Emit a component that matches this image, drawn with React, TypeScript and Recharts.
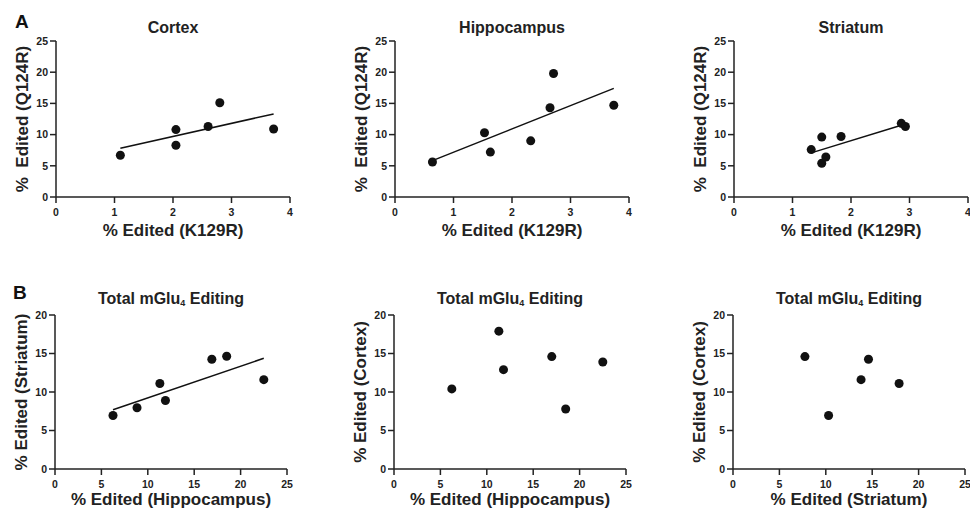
import { ScatterChart, Scatter, XAxis, YAxis, ZAxis, Label } from 'recharts'

// tick sets
const k129rTicks = [0, 1, 2, 3, 4]
const q124rTicks = [0, 5, 10, 15, 20, 25]
const totalXTicks = [0, 5, 10, 15, 20, 25]
const totalYTicks = [0, 5, 10, 15, 20]

// A: % edited K129R vs Q124R, per region
const cortexK129R = [1.1, 2.05, 2.05, 2.6, 2.8, 3.72]
const cortexQ124R = [6.7, 10.8, 8.3, 11.3, 15.1, 10.9]

const hippoK129R = [0.64, 1.53, 1.63, 2.32, 2.65, 2.71, 3.74]
const hippoQ124R = [5.6, 10.3, 7.2, 9.0, 14.3, 19.8, 14.7]

const striatumK129R = [1.32, 1.5, 1.5, 1.57, 1.83, 2.86, 2.93]
const striatumQ124R = [7.6, 9.6, 5.4, 6.4, 9.7, 11.8, 11.3]

// B: total mGlu4 editing between regions
const hippoVsStriatumX = [6.25, 8.84, 11.3, 11.9, 16.9, 18.5, 22.5]
const hippoVsStriatumY = [6.95, 7.95, 11.1, 8.9, 14.25, 14.65, 11.6]

const hippoVsCortexX = [6.23, 11.3, 11.8, 17.0, 18.5, 22.5]
const hippoVsCortexY = [10.4, 17.9, 12.9, 14.6, 7.8, 13.9]

const striatumVsCortexX = [7.75, 10.3, 13.8, 14.6, 17.9]
const striatumVsCortexY = [14.6, 6.95, 11.6, 14.25, 11.1]

const zip = (xs: number[], ys: number[]) => xs.map((x, i) => ({ x, y: ys[i] }))

const INK = '#222'
const FONT = '"Liberation Sans", Arial, Helvetica, sans-serif'

interface PanelProps {
  left: number
  top: number
  height: number
  marginTop: number
  marginBottom: number
  marginLeft: number
  marginRight: number
  xLabelOffset: number
  data: { x: number; y: number }[]
  xTicks: number[]
  yTicks: number[]
  xLabel: string
  yLabel: string
  fit: boolean
}

function Panel(p: PanelProps) {
  const axisLine = { stroke: INK, strokeWidth: 1.5 }
  const tick = { fill: INK, fontSize: 10.5, fontWeight: 700, fontFamily: FONT }
  const titleStyle = { fill: INK, fontSize: 17, fontWeight: 700, fontFamily: FONT, textAnchor: 'middle' as const }
  return (
    <div style={{ position: 'absolute', left: p.left, top: p.top }}>
      <ScatterChart
        width={300}
        height={p.height}
        margin={{ top: p.marginTop, right: p.marginRight, bottom: p.marginBottom, left: p.marginLeft }}
      >
        <XAxis
          type="number"
          dataKey="x"
          domain={[p.xTicks[0], p.xTicks[p.xTicks.length - 1]]}
          ticks={p.xTicks}
          interval={0}
          height={40}
          tickSize={6}
          tickMargin={6}
          axisLine={axisLine}
          tickLine={axisLine}
          tick={tick}
        >
          <Label value={p.xLabel} position="insideBottom" offset={p.xLabelOffset} style={titleStyle} />
        </XAxis>
        <YAxis
          type="number"
          dataKey="y"
          domain={[p.yTicks[0], p.yTicks[p.yTicks.length - 1]]}
          ticks={p.yTicks}
          interval={0}
          width={50}
          tickSize={6}
          tickMargin={2}
          axisLine={axisLine}
          tickLine={axisLine}
          tick={tick}
        >
          <Label value={p.yLabel} angle={-90} position="insideLeft" offset={16} style={titleStyle} />
        </YAxis>
        <ZAxis range={[50, 50]} />
        <Scatter
          data={p.data}
          fill="#111"
          isAnimationActive={false}
          line={p.fit ? { stroke: '#111', strokeWidth: 1.5 } : false}
          lineType="fitting"
        />
      </ScatterChart>
    </div>
  )
}

const rowA = { top: 0, height: 250, marginTop: 41, marginBottom: 13, marginLeft: 6, marginRight: 10, xLabelOffset: 1 }
const rowB = { top: 250, height: 259, marginTop: 65, marginBottom: 0, marginLeft: 5, marginRight: 13, xLabelOffset: 4 }

export default function App() {
  const titleProps = { fill: INK, fontSize: 16, fontWeight: 700, fontFamily: FONT, textAnchor: 'middle' as const }
  const totalTitle = (x: number) => (
    <text x={x} y={304} {...titleProps}>
      Total mGlu<tspan fontSize={9} dy={2}>4</tspan>
      <tspan dy={-2}> Editing</tspan>
    </text>
  )
  return (
    <div style={{ position: 'absolute', left: 0, top: 0, width: 970, height: 509, overflow: 'hidden', background: '#fff', fontFamily: FONT }}>
      <Panel left={0} {...rowA} data={zip(cortexK129R, cortexQ124R)} xTicks={k129rTicks} yTicks={q124rTicks}
        xLabel="% Edited (K129R)" yLabel={'%\u00A0\u00A0Edited (Q124R)'} fit />
      <Panel left={339} {...rowA} data={zip(hippoK129R, hippoQ124R)} xTicks={k129rTicks} yTicks={q124rTicks}
        xLabel="% Edited (K129R)" yLabel={'%\u00A0\u00A0Edited (Q124R)'} fit />
      <Panel left={678} {...rowA} data={zip(striatumK129R, striatumQ124R)} xTicks={k129rTicks} yTicks={q124rTicks}
        xLabel="% Edited (K129R)" yLabel={'%\u00A0\u00A0Edited (Q124R)'} fit />

      <Panel left={0} {...rowB} data={zip(hippoVsStriatumX, hippoVsStriatumY)} xTicks={totalXTicks} yTicks={totalYTicks}
        xLabel="% Edited (Hippocampus)" yLabel="% Edited (Striatum)" fit />
      <Panel left={339} {...rowB} data={zip(hippoVsCortexX, hippoVsCortexY)} xTicks={totalXTicks} yTicks={totalYTicks}
        xLabel="% Edited (Hippocampus)" yLabel="% Edited (Cortex)" fit={false} />
      <Panel left={678} {...rowB} data={zip(striatumVsCortexX, striatumVsCortexY)} xTicks={totalXTicks} yTicks={totalYTicks}
        xLabel="% Edited (Striatum)" yLabel="% Edited (Cortex)" fit={false} />

      <svg width={970} height={509} style={{ position: 'absolute', left: 0, top: 0, pointerEvents: 'none' }}>
        <text x={15} y={28} fill="#111" fontSize={19} fontWeight={700} fontFamily={FONT}>A</text>
        <text x={13} y={299} fill="#111" fontSize={19} fontWeight={700} fontFamily={FONT}>B</text>
        <text x={173} y={33} {...titleProps}>Cortex</text>
        <text x={512} y={33} {...titleProps}>Hippocampus</text>
        <text x={851} y={33} {...titleProps}>Striatum</text>
        {totalTitle(171)}
        {totalTitle(510)}
        {totalTitle(849)}
      </svg>
    </div>
  )
}
